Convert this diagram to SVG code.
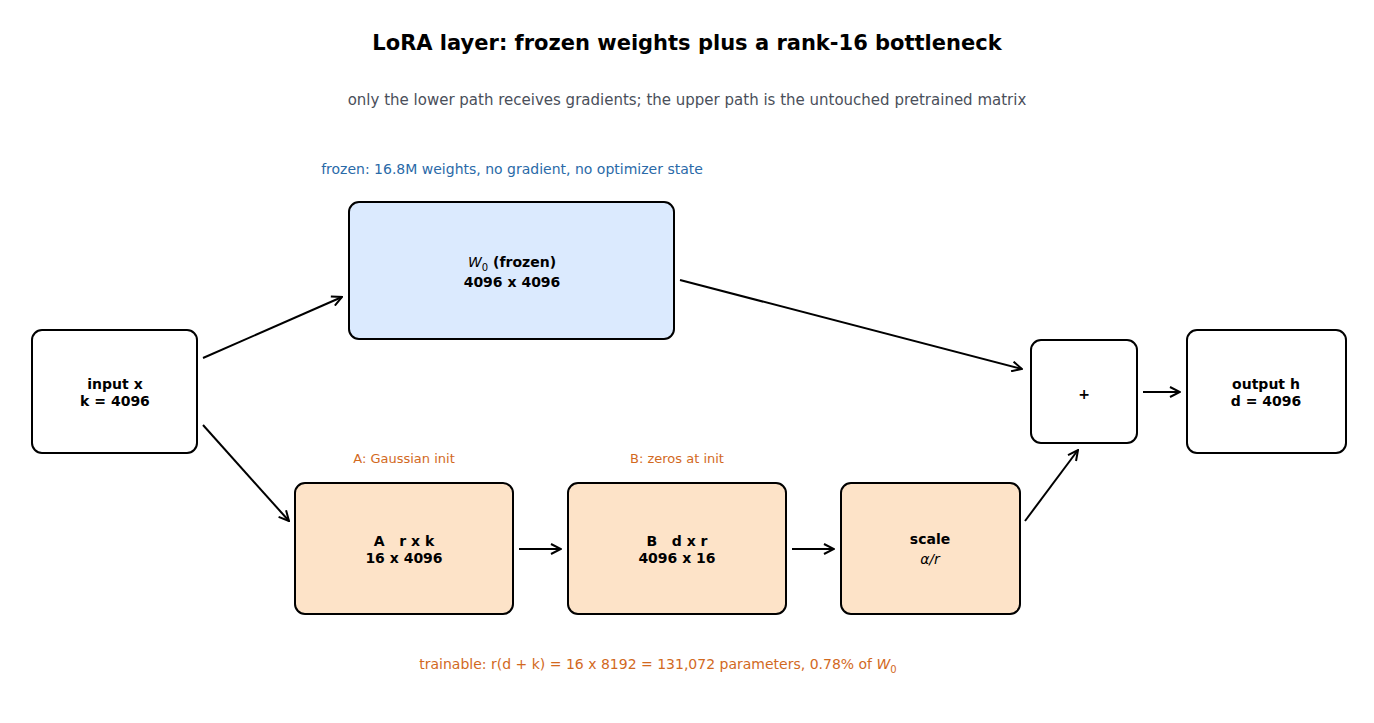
<svg xmlns="http://www.w3.org/2000/svg" width="1374" height="723" viewBox="0 0 1374 723">
<style>
text{font-family:"DejaVu Sans","Liberation Sans",sans-serif;text-anchor:middle}
.box{stroke:#000;stroke-width:2}
.lbl{font-size:14px;font-weight:bold;fill:#000}
.note{font-size:13px;fill:#d2691e}
.c line{stroke:#000;stroke-width:2;marker-end:url(#ah)}
</style>
<defs><marker id="ah" viewBox="0 0 12 12" refX="11" refY="6" markerWidth="12" markerHeight="12" markerUnits="userSpaceOnUse" orient="auto"><path d="M1,1 L11,6 L1,11" fill="none" stroke="#000" stroke-width="2"/></marker></defs>
<rect width="1374" height="723" fill="#fff"/>
<text x="687" y="50" font-size="21" font-weight="bold">LoRA layer: frozen weights plus a rank-16 bottleneck</text>
<text x="687" y="105" font-size="15" fill="#4a4f5a">only the lower path receives gradients; the upper path is the untouched pretrained matrix</text>
<text x="512" y="174" font-size="14" fill="#2a6aa8">frozen: 16.8M weights, no gradient, no optimizer state</text>
<text x="404" y="463" class="note">A: Gaussian init</text>
<text x="677" y="463" class="note">B: zeros at init</text>
<text x="658" y="669" font-size="14" fill="#d2691e">trainable: r(d + k) = 16 x 8192 = 131,072 parameters, 0.78% of <tspan font-style="italic">W</tspan><tspan font-size="10" dy="4">0</tspan></text>
<g id="input"><rect class="box" x="32" y="330" width="165" height="123" rx="10" fill="#fff"/><text class="lbl" x="115" y="389">input x</text><text class="lbl" x="115" y="406">k = 4096</text></g>
<g id="W0"><rect class="box" x="349" y="202" width="325" height="137" rx="10" fill="#dbeafe"/><text class="lbl" x="512" y="267"><tspan font-style="italic" font-weight="normal">W</tspan><tspan font-size="10" font-weight="normal" dy="4">0</tspan><tspan dy="-4">  (frozen)</tspan></text><text class="lbl" x="512" y="287">4096 x 4096</text></g>
<g id="A"><rect class="box" x="295" y="483" width="218" height="131" rx="10" fill="#fde3c8"/><text class="lbl" x="404" y="546" xml:space="preserve">A   r x k</text><text class="lbl" x="404" y="563">16 x 4096</text></g>
<g id="B"><rect class="box" x="568" y="483" width="218" height="131" rx="10" fill="#fde3c8"/><text class="lbl" x="677" y="546" xml:space="preserve">B   d x r</text><text class="lbl" x="677" y="563">4096 x 16</text></g>
<g id="scale"><rect class="box" x="841" y="483" width="179" height="131" rx="10" fill="#fde3c8"/><text class="lbl" x="930" y="544">scale</text><text x="930" y="564" font-size="14" font-style="italic">α/r</text></g>
<g id="plus"><rect class="box" x="1031" y="340" width="106" height="103" rx="10" fill="#fff"/><text class="lbl" x="1084" y="399" font-size="18">+</text></g>
<g id="output"><rect class="box" x="1187" y="330" width="159" height="123" rx="10" fill="#fff"/><text class="lbl" x="1266" y="389">output h</text><text class="lbl" x="1266" y="406">d = 4096</text></g>
<g class="c" id="connectors">
<line x1="203" y1="358" x2="342" y2="297"/>
<line x1="203" y1="425" x2="289" y2="521"/>
<line x1="680" y1="280" x2="1022" y2="369"/>
<line x1="519" y1="549" x2="561" y2="549"/>
<line x1="792" y1="549" x2="834" y2="549"/>
<line x1="1025" y1="521" x2="1078" y2="450"/>
<line x1="1143" y1="392" x2="1180" y2="392"/>
</g>
</svg>
